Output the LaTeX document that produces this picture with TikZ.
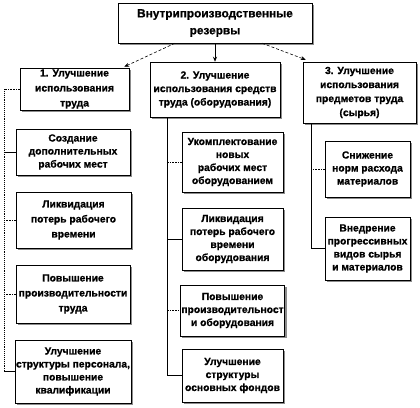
\documentclass[tikz,border=0pt]{standalone}
\usepackage{fontspec}
\setmainfont{Liberation Sans}[BoldFeatures={FakeBold=0.8}]
\usetikzlibrary{shadows,calc,arrows.meta}
\begin{document}
\begin{tikzpicture}[x=1pt,y=-1pt,
  box/.style={draw=black, line width=0.5pt, fill=white, align=center,
    inner sep=1pt, font=\fontsize{10.3}{13}\selectfont\bfseries,
    drop shadow={shadow xshift=2pt, shadow yshift=-2pt, fill=black!45, opacity=1}},
  link/.style={line width=0.6pt},
  dlink/.style={line width=0.6pt, densely dotted},
  arr/.style={line width=0.6pt, densely dashed, -{Stealth[length=5pt,width=4pt]}}]
\useasboundingbox (0,0) rectangle (420,407);
\node[box, minimum width=194pt, minimum height=40pt, font=\fontsize{11.8}{17}\selectfont\bfseries] (top) at (215,23) {Внутрипроизводственные\\резервы};
\node[box, minimum width=109pt, minimum height=42pt, font=\fontsize{10.3}{15}\selectfont\bfseries] (b1) at (74.5,89) {1. Улучшение\\использования\\труда};
\node[box, minimum width=130pt, minimum height=55pt, font=\fontsize{10.3}{13.5}\selectfont\bfseries] (b2) at (215,89.5) {2. Улучшение\\использования средств\\труда (оборудования)};
\node[box, minimum width=113pt, minimum height=61pt, font=\fontsize{10.3}{14}\selectfont\bfseries] (b3) at (359.5,92.5) {3. Улучшение\\использования\\предметов труда\\(сырья)};
\node[box, minimum width=114pt, minimum height=46pt] (c1a) at (73,152) {Создание\\дополнительных\\рабочих мест};
\node[box, minimum width=115pt, minimum height=56pt, font=\fontsize{10.3}{15}\selectfont\bfseries] (c1b) at (73.5,220) {Ликвидация\\потерь рабочего\\времени};
\node[box, minimum width=114pt, minimum height=58pt, font=\fontsize{10.3}{15}\selectfont\bfseries] (c1c) at (73,294) {Повышение\\производительности\\труда};
\node[box, minimum width=114pt, minimum height=63pt] (c1d) at (73,371.5) {Улучшение\\структуры персонала,\\повышение\\квалификации};
\node[box, minimum width=101pt, minimum height=60pt] (c2a) at (232.5,162) {Укомплектование\\новых\\рабочих мест\\оборудованием};
\node[box, minimum width=101pt, minimum height=62pt] (c2b) at (232.5,239) {Ликвидация\\потерь рабочего\\времени\\оборудования};
\node[box, minimum width=101pt, minimum height=51pt] (c2c) at (232.5,310.5) {Повышение\\производительност\\и оборудования};
\node[box, minimum width=101pt, minimum height=53pt] (c2d) at (232.5,375.5) {Улучшение\\структуры\\основных фондов};
\node[box, minimum width=85pt, minimum height=56pt] (c3a) at (367.5,169) {Снижение\\норм расхода\\материалов};
\node[box, minimum width=85pt, minimum height=63pt] (c3b) at (367.5,248.5) {Внедрение\\прогрессивных\\видов сырья\\и материалов};
\coordinate (s1) at (4,0);
\coordinate (s2) at (167,0);
\coordinate (s3) at (311,0);
% arrows from top
\draw[arr] ($(top.south west)!0.294!(top.south east)$) -- ($(b1.north east)+(-5,-1)$);
\draw[line width=0.6pt, -{Stealth[length=5pt,width=4pt]}] (top.south) -- (b2.north);
\draw[arr] ($(top.south west)!0.742!(top.south east)$) -- ($(b3.north west)+(3,-2)$);
% column 1
\draw[dlink] (b1.west) -- (b1.west -| s1);
\draw[densely dotted, line width=0.9pt] (b1.west -| s1) -- (c1d.west -| s1);
\draw[link] (c1a.west) -- (c1a.west -| s1);
\draw[dlink] (c1b.west) -- (c1b.west -| s1);
\draw[dlink] (c1c.west) -- (c1c.west -| s1);
\draw[link] (c1d.west) -- (c1d.west -| s1);
% column 2
\draw[link] (b2.south -| s2) -- (c2d.west -| s2) -- (c2d.west);
\draw[dlink] (c2a.west) -- (c2a.west -| s2);
\draw[link] (c2b.west) -- (c2b.west -| s2);
\draw[dlink] (c2c.west) -- (c2c.west -| s2);
% column 3
\draw[link] (b3.south -| s3) -- (c3b.west -| s3) -- (c3b.west);
\draw[dlink] (c3a.west) -- (c3a.west -| s3);
\end{tikzpicture}
\end{document}
